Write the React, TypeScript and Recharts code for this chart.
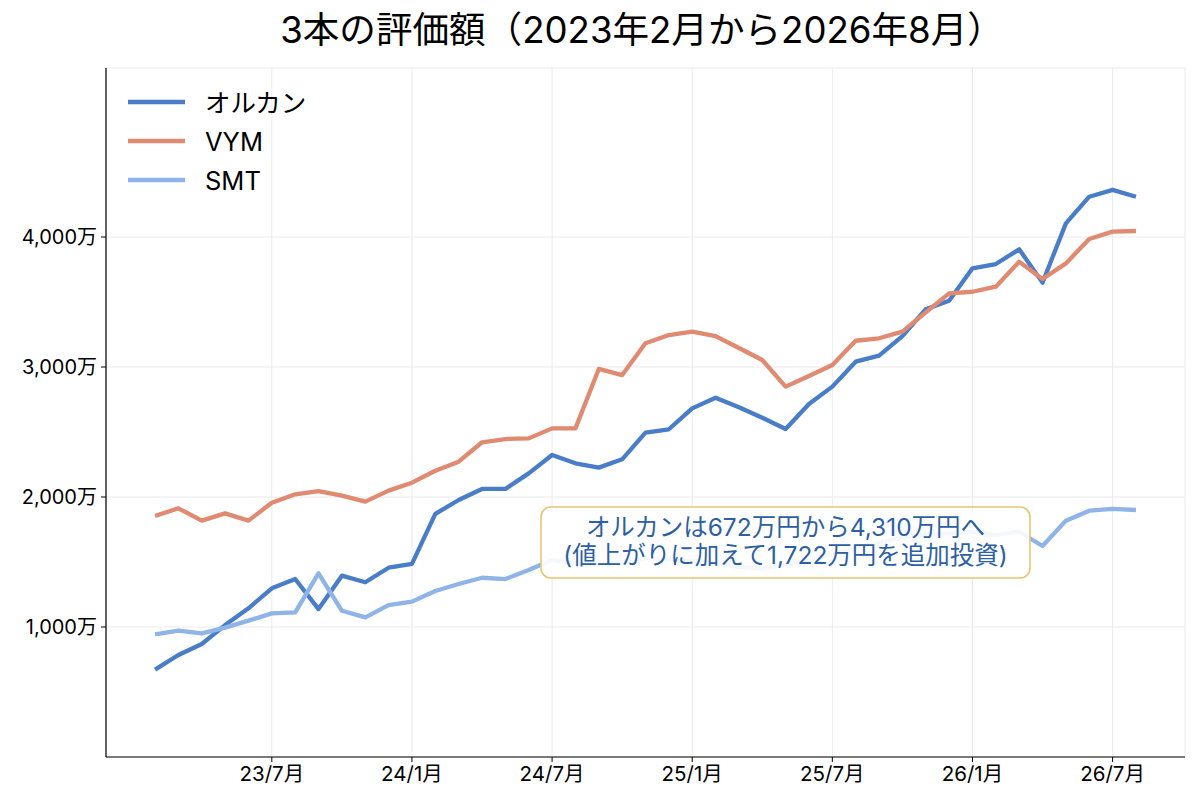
import React from 'react';
import { LineChart, Line, XAxis, YAxis, CartesianGrid } from 'recharts';

const months = [
  '2023/02','2023/03','2023/04','2023/05','2023/06','2023/07','2023/08','2023/09','2023/10','2023/11','2023/12',
  '2024/01','2024/02','2024/03','2024/04','2024/05','2024/06','2024/07','2024/08','2024/09','2024/10','2024/11','2024/12',
  '2025/01','2025/02','2025/03','2025/04','2025/05','2025/06','2025/07','2025/08','2025/09','2025/10','2025/11','2025/12',
  '2026/01','2026/02','2026/03','2026/04','2026/05','2026/06','2026/07','2026/08',
];

const orcan = [672, 785, 869, 1015, 1144, 1298, 1369, 1138, 1395, 1344, 1456, 1485, 1870, 1977, 2062, 2062, 2182, 2323, 2259, 2226, 2290, 2495, 2521, 2682, 2764, 2690, 2610, 2523, 2715, 2849, 3041, 3087, 3238, 3444, 3510, 3759, 3792, 3905, 3649, 4105, 4310, 4362, 4310];
const vym = [1854, 1913, 1818, 1874, 1818, 1956, 2021, 2046, 2010, 1964, 2049, 2110, 2202, 2272, 2421, 2446, 2451, 2528, 2528, 2985, 2938, 3182, 3246, 3272, 3238, 3146, 3054, 2849, 2931, 3015, 3202, 3221, 3272, 3420, 3567, 3579, 3618, 3810, 3677, 3797, 3985, 4041, 4046];
const smt = [944, 972, 951, 995, 1049, 1105, 1113, 1413, 1125, 1074, 1169, 1195, 1277, 1331, 1379, 1369, 1438, 1515, 1490, 1480, 1500, 1530, 1520, 1510, 1490, 1460, 1450, 1480, 1510, 1560, 1610, 1650, 1690, 1710, 1720, 1733, 1708, 1733, 1623, 1818, 1895, 1908, 1900];

const xTickIndex = [5, 11, 17, 23, 29, 35, 41];
const xTickLabels = ['23/7月', '24/1月', '24/7月', '25/1月', '25/7月', '26/1月', '26/7月'];
const yTicks = [1000, 2000, 3000, 4000];

const seriesNames = ['オルカン', 'VYM', 'SMT'];
const seriesKeys = ['orcan', 'vym', 'smt'];
const seriesColors = ['#4a7dc8', '#e08a72', '#8eb4e8'];

const titleText = '3本の評価額（2023年2月から2026年8月）';
const noteLines = ['オルカンは672万円から4,310万円へ', '(値上がりに加えて1,722万円を追加投資)'];

const data = months.map((m, i) => ({ idx: i, month: m, orcan: orcan[i], vym: vym[i], smt: smt[i] }));

const FONT = 'Inter, "Noto Sans CJK JP", sans-serif';

export default function App() {
  return (
    <div style={{ position: 'fixed', left: 0, top: 0, width: 1200, height: 800, background: '#fff', fontFamily: FONT }}>
      <LineChart width={1200} height={800} data={data} margin={{ top: 68, right: 15, bottom: 0, left: 0 }}>
        <CartesianGrid stroke="#ebebeb" strokeWidth={1} />
        <XAxis
          type="number"
          dataKey="idx"
          domain={[-2.1, 44.1]}
          allowDataOverflow
          ticks={xTickIndex}
          tickFormatter={(v: number) => xTickLabels[xTickIndex.indexOf(v)]}
          height={43}
          axisLine={{ stroke: '#000', strokeWidth: 1.2 }}
          tickLine={{ stroke: '#000' }}
          tickSize={5}
          tickMargin={4}
          tick={{ fill: '#000', fontSize: 20.5, fontFamily: FONT }}
        />
        <YAxis
          type="number"
          domain={[0, 5300]}
          allowDataOverflow
          ticks={yTicks}
          tickFormatter={(v: number) => v.toLocaleString('en-US') + '万'}
          width={106}
          axisLine={{ stroke: '#000', strokeWidth: 1.2 }}
          tickLine={{ stroke: '#000' }}
          tickSize={5}
          tickMargin={4}
          tick={{ fill: '#000', fontSize: 20, fontFamily: FONT }}
        />
        {seriesKeys.map((k, i) => (
          <Line
            key={k}
            type="linear"
            dataKey={k}
            name={seriesNames[i]}
            stroke={seriesColors[i]}
            strokeWidth={4.3}
            strokeLinejoin="round"
            dot={false}
            activeDot={false}
            isAnimationActive={false}
          />
        ))}
      </LineChart>
      <svg width={1200} height={800} style={{ position: 'absolute', left: 0, top: 0, pointerEvents: 'none' }}>
        <text x={642} y={30} textAnchor="middle" dominantBaseline="central" fontSize={36.6} fill="#000" fontFamily={FONT}>
          {titleText}
        </text>
        {seriesNames.map((n, i) => (
          <g key={n}>
            <line x1={128} x2={185} y1={102 + i * 39} y2={102 + i * 39} stroke={seriesColors[i]} strokeWidth={4.3} />
            <text x={205} y={102 + i * 39} dominantBaseline="central" fontSize={25.5} fill="#000" fontFamily={FONT}>
              {n}
            </text>
          </g>
        ))}
        <rect x={541} y={507} width={489} height={71} rx={10} ry={10} fill="#fff" fillOpacity={0.9} stroke="#e6c672" strokeWidth={1.6} />
        {noteLines.map((t, i) => (
          <text key={i} x={785.5} y={527 + i * 28} textAnchor="middle" dominantBaseline="central" fontSize={24.5} fill="#2e5fa3" fontFamily={FONT}>
            {t}
          </text>
        ))}
      </svg>
    </div>
  );
}
